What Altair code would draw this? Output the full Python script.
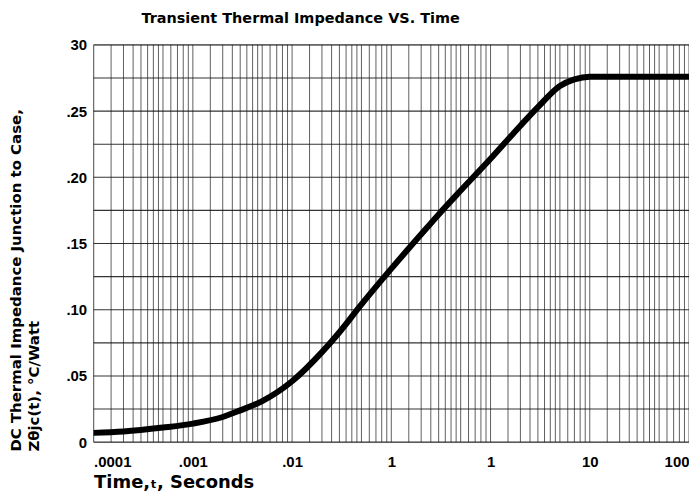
import altair as alt
import pandas as pd

# Curve (time in seconds, Z thetaJC in degC/W)
time_s = [0.0001, 0.0002, 0.0005, 0.001, 0.002, 0.003, 0.005, 0.01, 0.02, 0.03,
          0.05, 0.1, 0.2, 0.3, 0.5, 1, 2, 3, 5, 7, 10, 20, 50, 100]
z_thjc = [0.007, 0.008, 0.011, 0.014, 0.019, 0.024, 0.031, 0.046, 0.068, 0.083,
          0.104, 0.131, 0.157, 0.172, 0.190, 0.214, 0.239, 0.253, 0.269, 0.274,
          0.276, 0.276, 0.276, 0.276]

# Axis ticks and labels (as printed on the original)
x_tick_values = [0.0001, 0.001, 0.01, 0.1, 1, 10, 100]
x_tick_labels = [".0001", ".001", ".01", "1", "1", "10", "100"]
y_tick_values = [0, 0.05, 0.10, 0.15, 0.20, 0.25, 0.30]
y_tick_labels = ["0", ".05", ".10", ".15", ".20", ".25", "30"]

# Log-paper grid
decades = [0.0001, 0.001, 0.01, 0.1, 1, 10]
minor_steps = [1, 1.5, 2, 2.5, 3, 3.5, 4, 4.5, 5, 6, 7, 8, 9]
y_grid = [0, 0.025, 0.05, 0.075, 0.10, 0.125, 0.15, 0.175, 0.20, 0.225, 0.25, 0.275, 0.30]

LABEL_FONT = "Liberation Sans"
TITLE_FONT = "DejaVu Sans"

curve = pd.DataFrame({"t": time_s, "z": z_thjc})
vgrid = pd.DataFrame({"gx": [d * s for d in decades for s in minor_steps] + [100]})
hgrid = pd.DataFrame({"gy": y_grid})


def label_expr(values, labels, tol):
    expr = "''"
    for v, l in reversed(list(zip(values, labels))):
        expr = f"abs(datum.value - {v}) <= {tol(v)} ? '{l}' : ({expr})"
    return expr


x_scale = alt.Scale(type="log", domain=[0.0001, 100], nice=False)
y_scale = alt.Scale(domain=[0, 0.30], nice=False, zero=False)

x_axis = alt.Axis(
    values=x_tick_values,
    labelExpr=label_expr(x_tick_values, x_tick_labels, lambda v: v * 0.01),
    grid=False, ticks=False, domain=False, labelFlush=True,
    labelFont=LABEL_FONT, labelFontSize=15, labelFontWeight="bold", labelColor="black",
    labelPadding=12,
    title="Time,ₜ, Seconds", titleFont=TITLE_FONT, titleFontSize=18, titleFontWeight="bold",
    titleColor="black", titleX=0, titleY=46, titleAlign="left", titleBaseline="alphabetic",
)
y_axis = alt.Axis(
    values=y_tick_values,
    labelExpr=label_expr(y_tick_values, y_tick_labels, lambda v: 0.001),
    grid=False, ticks=False, domain=False,
    labelFont=LABEL_FONT, labelFontSize=15, labelFontWeight="bold", labelColor="black",
    labelPadding=7,
    title=["DC Thermal Impedance Junction to Case,", "Zθjc(t), °C/Watt"],
    titleFont=TITLE_FONT, titleFontSize=15, titleFontWeight="bold", titleColor="black",
    titleAngle=270, titleAlign="left", titleBaseline="top",
    titleX=-85, titleY=408, titleLineHeight=18,
)

vrules = alt.Chart(vgrid).mark_rule(color="#222", strokeWidth=0.9, opacity=0.8).encode(
    x=alt.X("gx:Q", scale=x_scale, axis=x_axis)
)
hrules = alt.Chart(hgrid).mark_rule(color="#111", strokeWidth=1.1, opacity=0.85).encode(
    y=alt.Y("gy:Q", scale=y_scale, axis=y_axis)
)
line = alt.Chart(curve).mark_line(
    color="black", strokeWidth=6, interpolate="monotone", strokeCap="round", clip=True
).encode(
    x=alt.X("t:Q", scale=x_scale, axis=x_axis),
    y=alt.Y("z:Q", scale=y_scale, axis=y_axis),
)

chart = alt.layer(vrules, hrules, line).properties(
    width=598,
    height=399,
    title=alt.TitleParams(
        "Transient Thermal Impedance VS. Time", anchor="start", frame="group", dx=48,
        offset=12, font=TITLE_FONT, fontSize=14.5, fontWeight="bold", color="black",
    ),
    padding={"left": 86, "top": 36, "right": 0, "bottom": 48},
    autosize=alt.AutoSizeParams(type="none"),
).configure_view(stroke="black", strokeWidth=1.6).configure(background="white")

chart.save("out.html", embed_options={"renderer": "svg", "actions": False})
